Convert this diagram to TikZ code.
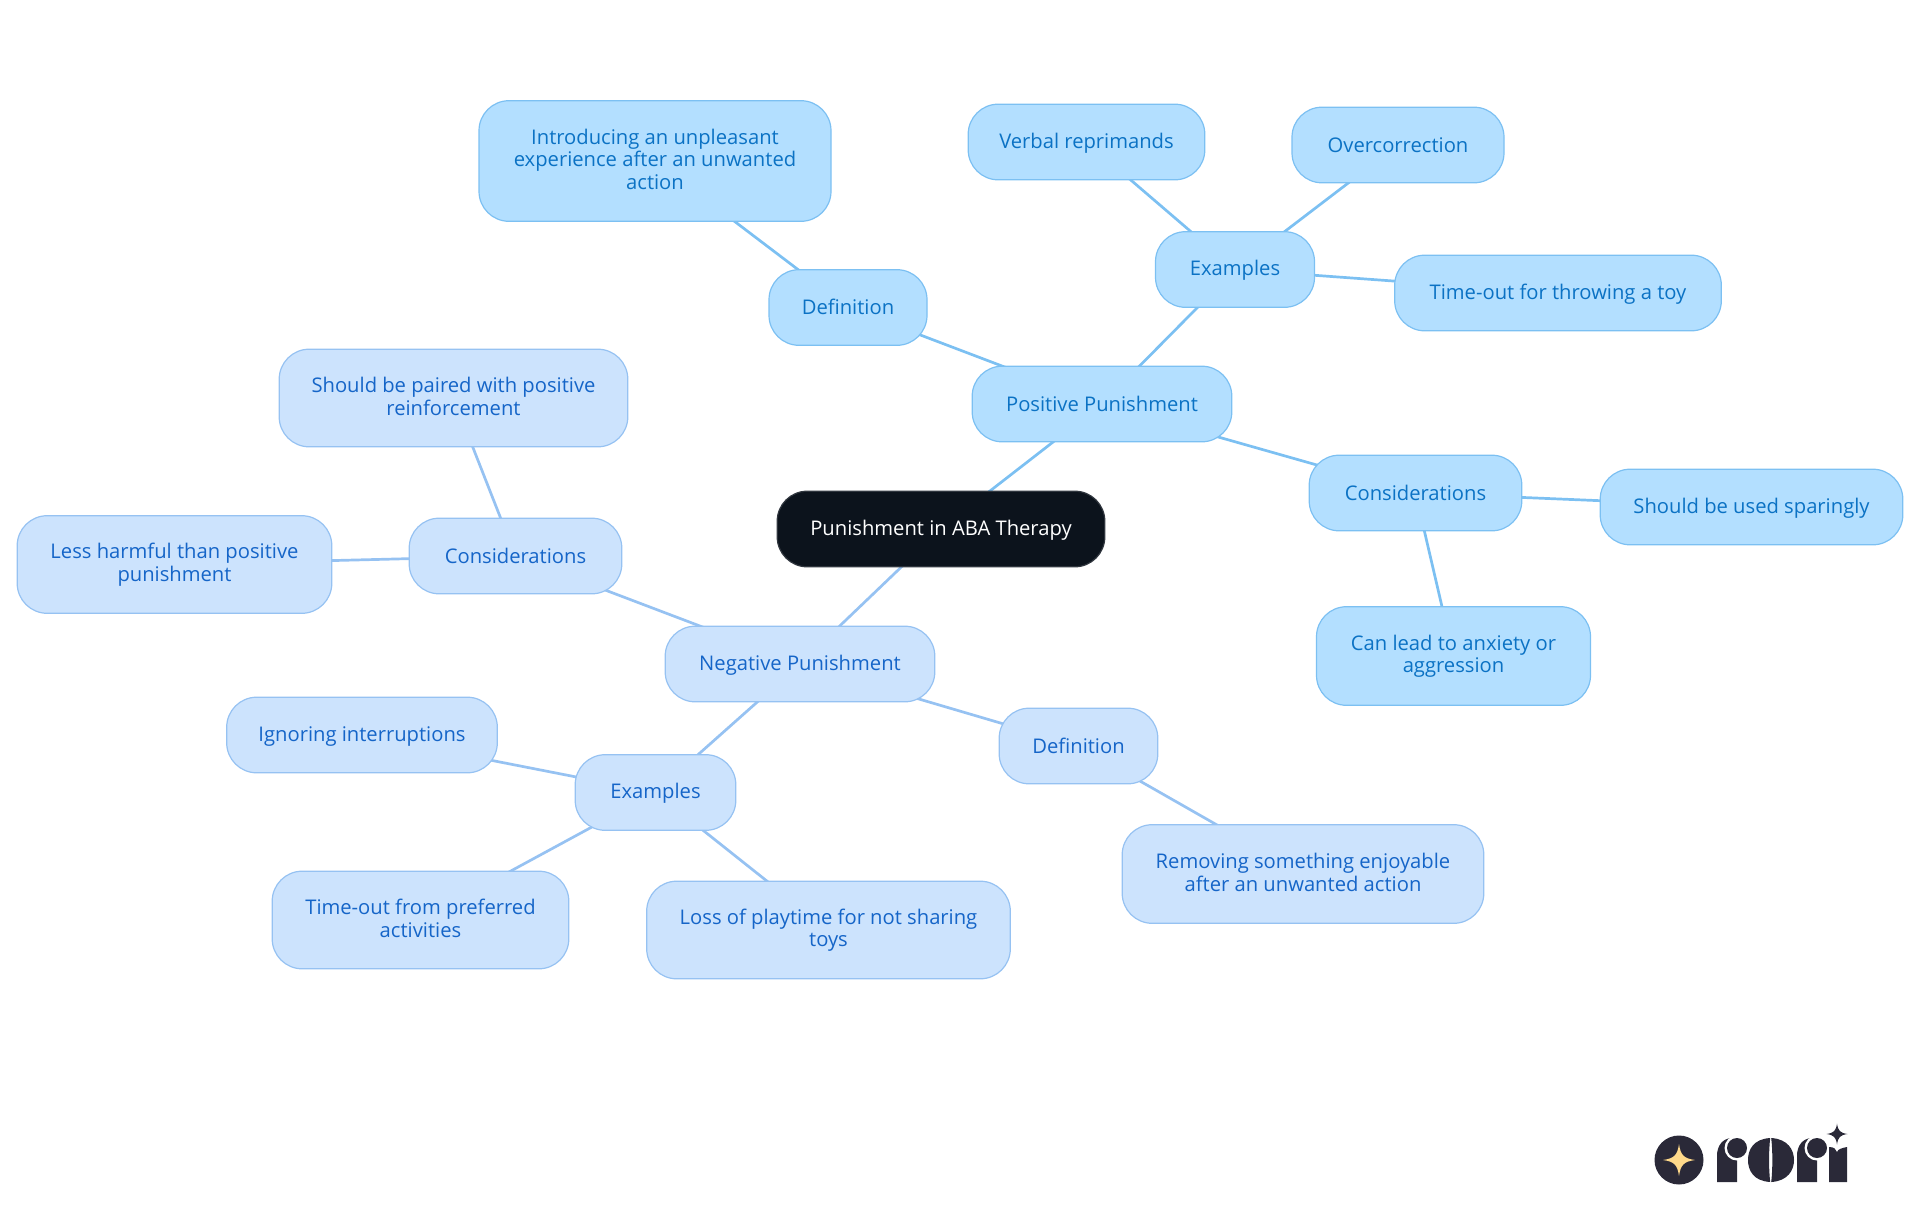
\documentclass[tikz,border=0pt]{standalone}
\usepackage{xcolor}
\usepackage{fontspec}
\setmainfont{Open Sans}
\usetikzlibrary{backgrounds}
\definecolor{rootfill}{HTML}{0C131C}
\definecolor{posfill}{HTML}{B3DFFF}
\definecolor{posline}{HTML}{7CC0F2}
\definecolor{postext}{HTML}{0B72C4}
\definecolor{negfill}{HTML}{CCE3FD}
\definecolor{negline}{HTML}{96C2F2}
\definecolor{negtext}{HTML}{1565C8}
\definecolor{logoink}{HTML}{2A2938}
\definecolor{logostar}{HTML}{FFD98A}

\begin{document}
\begin{tikzpicture}[
    x=1pt, y=-1pt,
    mapbox/.style={rounded corners=30pt, align=center, line width=1.2pt, inner sep=0pt,
                minimum height=75.6pt, font=\fontsize{20.2}{22.5}\selectfont,
                execute at begin node={\rule{0pt}{17.6pt}},
                execute at end node={\rule[-3.4pt]{0pt}{3.4pt}}},
    rootbox/.style={mapbox, draw=rootfill!85!white, fill=rootfill, text=white},
    posbox/.style={mapbox, draw=posline, fill=posfill, text=postext},
    negbox/.style={mapbox, draw=negline, fill=negfill, text=negtext},
    poslink/.style={line width=2.7pt, draw=posline},
    neglink/.style={line width=2.7pt, draw=negline}
  ]
    \useasboundingbox (0,0) rectangle (1920,1215);
    \node[rootbox, minimum width=327.6pt] (root) at (941,529) {Punishment in ABA Therapy};
    % positive side
    \node[posbox, minimum width=259.6pt] (pos) at (1102,404) {Positive Punishment};
    \node[posbox, minimum width=158pt] (posdef) at (848,307.5) {Definition};
    \node[posbox, minimum width=352pt, minimum height=120.6pt] (posdeftxt) at (655,161) {Introducing an unpleasant\\experience after an unwanted\\action};
    \node[posbox, minimum width=159pt] (posex) at (1235,269.5) {Examples};
    \node[posbox, minimum width=236.6pt] (posverbal) at (1086.5,142) {Verbal reprimands};
    \node[posbox, minimum width=212pt] (posover) at (1398,145) {Overcorrection};
    \node[posbox, minimum width=326.6pt] (postime) at (1558,293) {Time-out for throwing a toy};
    \node[posbox, minimum width=212.6pt] (poscons) at (1415.5,493) {Considerations};
    \node[posbox, minimum width=302.6pt] (possparing) at (1751.5,507) {Should be used sparingly};
    \node[posbox, minimum width=274pt, minimum height=98.6pt] (posanx) at (1453.5,656) {Can lead to anxiety or\\aggression};
    % negative side
    \node[negbox, minimum width=269.6pt] (neg) at (800,664) {Negative Punishment};
    \node[negbox, minimum width=212.6pt] (negcons) at (515.5,556) {Considerations};
    \node[negbox, minimum width=348.6pt, minimum height=97.6pt] (negpair) at (453.5,398) {Should be paired with positive\\reinforcement};
    \node[negbox, minimum width=314.6pt, minimum height=97.6pt] (negless) at (174.5,564.5) {Less harmful than positive\\punishment};
    \node[negbox, minimum width=160.6pt] (negex) at (655.5,792.5) {Examples};
    \node[negbox, minimum width=270.6pt] (negignore) at (362,735) {Ignoring interruptions};
    \node[negbox, minimum width=296.6pt, minimum height=97.6pt] (negtime) at (420.5,920) {Time-out from preferred\\activities};
    \node[negbox, minimum width=363.6pt, minimum height=97.6pt] (negloss) at (828.5,930) {Loss of playtime for not sharing\\toys};
    \node[negbox, minimum width=158.6pt] (negdef) at (1078.5,746) {Definition};
    \node[negbox, minimum width=361.6pt, minimum height=98.6pt] (negremove) at (1303,874) {Removing something enjoyable\\after an unwanted action};
    \begin{pgfonlayer}{background}
      \draw[poslink] (root.center) -- (pos.center);
      \draw[poslink] (pos.center) -- (posdef.center);
      \draw[poslink] (posdef.center) -- (posdeftxt.center);
      \draw[poslink] (pos.center) -- (posex.center);
      \draw[poslink] (posex.center) -- (posverbal.center);
      \draw[poslink] (posex.center) -- (posover.center);
      \draw[poslink] (posex.center) -- (postime.center);
      \draw[poslink] (pos.center) -- (poscons.center);
      \draw[poslink] (poscons.center) -- (possparing.center);
      \draw[poslink] (poscons.center) -- (posanx.center);
      \draw[neglink] (root.center) -- (neg.center);
      \draw[neglink] (neg.center) -- (negcons.center);
      \draw[neglink] (negcons.center) -- (negpair.center);
      \draw[neglink] (negcons.center) -- (negless.center);
      \draw[neglink] (neg.center) -- (negex.center);
      \draw[neglink] (negex.center) -- (negignore.center);
      \draw[neglink] (negex.center) -- (negtime.center);
      \draw[neglink] (negex.center) -- (negloss.center);
      \draw[neglink] (neg.center) -- (negdef.center);
      \draw[neglink] (negdef.center) -- (negremove.center);
    \end{pgfonlayer}
    % logo
    \fill[logoink] (1679,1160) circle (24.5);
    \fill[logostar, shift={(1679,1160)}, scale=16] (-1,0) .. controls (-.3,-.1) and (-.1,-.3) .. (0,-1) .. controls (.1,-.3) and (.3,-.1) .. (1,0) .. controls (.3,.1) and (.1,.3) .. (0,1) .. controls (-.1,.3) and (-.3,.1) .. (-1,0) -- cycle;
    \fill[logoink, shift={(1837,1134)}, scale=10.5] (-1,0) .. controls (-.3,-.1) and (-.1,-.3) .. (0,-1) .. controls (.1,-.3) and (.3,-.1) .. (1,0) .. controls (.3,.1) and (.1,.3) .. (0,1) .. controls (-.1,.3) and (-.3,.1) .. (-1,0) -- cycle;
    % r
    \fill[logoink] (1717,1182) -- (1717,1156) .. controls (1717,1146) and (1722,1139) .. (1731,1138) -- (1737,1150) -- (1737,1182) -- cycle;
    \fill[white] (1737,1148) circle (12.5);
    \fill[logoink] (1737,1148) circle (10);
    % o
    \fill[logoink] (1770.2,1138) .. controls (1753,1139) and (1748,1150) .. (1748,1160) .. controls (1748,1170) and (1753,1181) .. (1770.2,1182) .. controls (1768.7,1170) and (1768.7,1150) .. (1770.2,1138) -- cycle;
    \fill[logoink] (1771.2,1138) .. controls (1772.7,1150) and (1772.7,1170) .. (1771.2,1182) .. controls (1788,1181) and (1794,1170) .. (1794,1160) .. controls (1794,1150) and (1788,1139) .. (1771.2,1138) -- cycle;
    % r
    \fill[logoink] (1797,1182) -- (1797,1156) .. controls (1797,1146) and (1802,1139) .. (1811,1138) -- (1817,1150) -- (1817,1182) -- cycle;
    \fill[white] (1817,1148) circle (12.5);
    \fill[logoink] (1817,1148) circle (10);
    % i
    \fill[logoink] (1829,1182) -- (1829,1147) .. controls (1834,1147) and (1836,1149) .. (1837,1152) .. controls (1838,1149) and (1842,1148) .. (1847,1147) -- (1847,1182) -- cycle;
  \end{tikzpicture}
\end{document}
